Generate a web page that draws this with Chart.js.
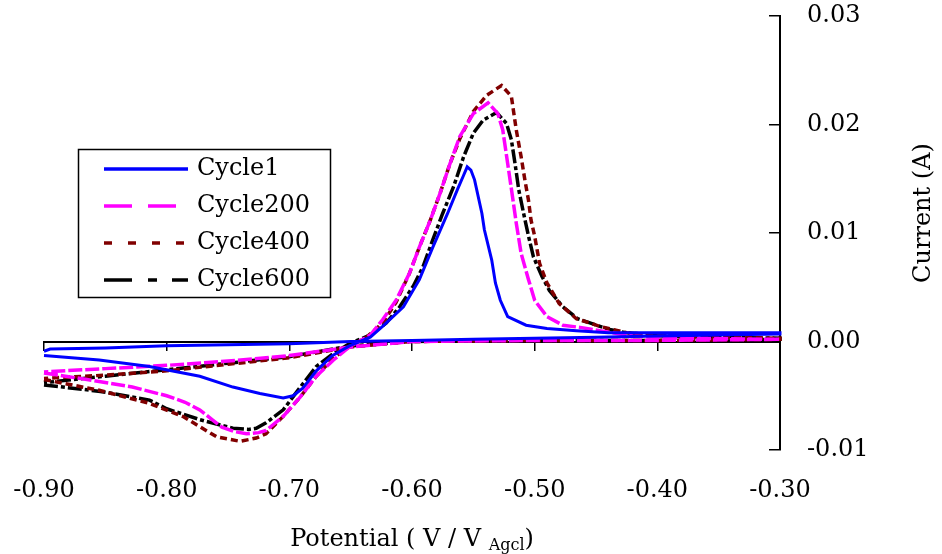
<!DOCTYPE html>
<html>
<head>
<meta charset="utf-8">
<script src="https://cdn.jsdelivr.net/npm/chart.js@4.4.1/dist/chart.umd.min.js"></script>
<style>
html,body{margin:0;padding:0;background:#ffffff;}
canvas{display:block;}
</style>
</head>
<body>
<canvas id="cv" width="942" height="554"></canvas>
<script>
// ---------- data ----------
const seriesLabels = ['Cycle1', 'Cycle200', 'Cycle400', 'Cycle600'];

const potentialCycle1 = [
  -0.900,-0.855,-0.814,-0.773,-0.746,-0.724,-0.705,-0.697,-0.689,-0.678,-0.665,-0.651,-0.634,-0.624,-0.607,
  -0.594,-0.583,-0.571,-0.563,-0.558,-0.555,-0.552,-0.549,-0.543,-0.541,-0.535,-0.532,-0.528,-0.522,-0.507,
  -0.490,-0.466,-0.440,-0.400,-0.350,-0.300,
  -0.300,-0.350,-0.400,-0.450,-0.500,-0.550,-0.600,-0.650,-0.700,-0.750,-0.800,-0.850,-0.895,-0.900];
const currentCycle1 = [
  -0.0013,-0.0017,-0.0023,-0.0032,-0.0042,-0.0048,-0.0052,-0.0050,-0.0043,-0.0027,-0.0013,-0.0004,0.0004,0.0014,0.0032,
  0.0057,0.0087,0.0118,0.0140,0.0153,0.0161,0.0158,0.0149,0.0118,0.0103,0.0075,0.0054,0.0038,0.0023,0.0015,
  0.0012,0.0010,0.0008,0.0008,0.0008,0.0008,
  0.0007,0.0006,0.0005,0.0004,0.0003,0.0002,0.0001,0.0000,-0.0002,-0.0003,-0.0004,-0.0006,-0.0007,-0.0009];

const potentialCycle200 = [
  -0.900,-0.865,-0.828,-0.800,-0.785,-0.773,-0.763,-0.755,-0.745,-0.735,-0.725,-0.719,-0.705,-0.691,-0.678,
  -0.664,-0.651,-0.634,-0.624,-0.613,-0.602,-0.594,-0.585,-0.577,-0.569,-0.561,-0.550,-0.538,-0.530,-0.526,
  -0.522,-0.518,-0.515,-0.511,-0.505,-0.500,-0.490,-0.477,-0.463,-0.447,-0.420,-0.380,-0.300,
  -0.300,-0.400,-0.500,-0.600,-0.650,-0.700,-0.750,-0.800,-0.850,-0.900];
const currentCycle200 = [
  -0.0029,-0.0035,-0.0042,-0.0050,-0.0056,-0.0063,-0.0072,-0.0079,-0.0083,-0.0085,-0.0084,-0.0082,-0.0069,-0.0051,-0.0032,
  -0.0017,-0.0005,0.0006,0.0020,0.0038,0.0063,0.0087,0.0112,0.0137,0.0164,0.0189,0.0210,0.0220,0.0210,0.0195,
  0.0164,0.0133,0.0109,0.0081,0.0057,0.0038,0.0023,0.0015,0.0013,0.0010,0.0005,0.0003,0.0002,
  0.0002,0.0001,0.0001,0.0000,-0.0005,-0.0013,-0.0018,-0.0022,-0.0025,-0.0028];

const potentialCycle400 = [
  -0.900,-0.855,-0.814,-0.787,-0.759,-0.740,-0.727,-0.719,-0.705,-0.691,-0.678,-0.664,-0.651,-0.637,-0.624,
  -0.613,-0.602,-0.594,-0.585,-0.577,-0.569,-0.561,-0.550,-0.539,-0.527,-0.519,-0.515,-0.511,-0.508,-0.505,
  -0.503,-0.500,-0.496,-0.490,-0.480,-0.466,-0.447,-0.425,-0.392,-0.350,-0.300,
  -0.300,-0.400,-0.500,-0.600,-0.650,-0.700,-0.750,-0.800,-0.850,-0.900];
const currentCycle400 = [
  -0.0035,-0.0045,-0.0057,-0.0069,-0.0088,-0.0092,-0.0089,-0.0085,-0.0069,-0.0051,-0.0032,-0.0015,-0.0005,0.0004,0.0017,
  0.0036,0.0063,0.0087,0.0112,0.0137,0.0164,0.0187,0.0212,0.0227,0.0236,0.0226,0.0195,0.0170,0.0149,0.0130,
  0.0112,0.0097,0.0072,0.0054,0.0035,0.0021,0.0014,0.0008,0.0005,0.0004,0.0003,
  0.0002,0.0001,0.0001,0.0000,-0.0005,-0.0015,-0.0021,-0.0027,-0.0031,-0.0034];

const potentialCycle600 = [
  -0.900,-0.854,-0.814,-0.800,-0.773,-0.746,-0.733,-0.727,-0.719,-0.705,-0.691,-0.678,-0.664,-0.651,-0.634,
  -0.621,-0.610,-0.599,-0.591,-0.583,-0.575,-0.566,-0.558,-0.550,-0.542,-0.531,-0.523,-0.519,-0.516,-0.513,
  -0.509,-0.505,-0.501,-0.494,-0.488,-0.477,-0.465,-0.452,-0.439,-0.425,-0.392,-0.350,-0.300,
  -0.300,-0.400,-0.500,-0.600,-0.650,-0.700,-0.750,-0.800,-0.850,-0.900];
const currentCycle600 = [
  -0.0040,-0.0046,-0.0054,-0.0062,-0.0072,-0.0080,-0.0081,-0.0080,-0.0075,-0.0063,-0.0042,-0.0023,-0.0011,-0.0002,0.0006,
  0.0017,0.0032,0.0051,0.0069,0.0094,0.0118,0.0143,0.0170,0.0192,0.0204,0.0211,0.0201,0.0186,0.0164,0.0140,
  0.0118,0.0097,0.0078,0.0060,0.0047,0.0032,0.0021,0.0016,0.0011,0.0008,0.0005,0.0004,0.0003,
  0.0002,0.0001,0.0001,0.0000,-0.0004,-0.0014,-0.0020,-0.0026,-0.0032,-0.0038];

const xMin = -0.90, xMax = -0.30, xStep = 0.10;
const yMin = -0.01, yMax = 0.03, yStep = 0.01;
const xTitleMain = 'Potential ( V / V ';
const xTitleSub = 'Agcl';
const xTitleEnd = ')';
const yTitle = 'Current (A)';

// ---------- styles ----------
const FONT = "'DejaVu Serif', 'Liberation Serif', serif";
const colors = ['#0000ff', '#ff00ff', '#800000', '#000000'];
const lineDashes = [[], [14, 3], [7, 4], [14, 3, 4, 3]];
const legendDashes = [[], [28, 16], [8, 16], [28, 16, 9, 15]];
const widths = [3, 3.5, 3.5, 3.5];

function pairs(xs, ys) { return xs.map((x, i) => ({ x: x, y: ys[i] })); }
const seriesX = [potentialCycle1, potentialCycle200, potentialCycle400, potentialCycle600];
const seriesY = [currentCycle1, currentCycle200, currentCycle400, currentCycle600];

const datasets = seriesLabels.map((lab, i) => ({
  label: lab,
  data: pairs(seriesX[i], seriesY[i]),
  showLine: true,
  borderColor: colors[i],
  backgroundColor: colors[i],
  borderWidth: widths[i],
  borderDash: lineDashes[i],
  pointRadius: 0,
  pointHoverRadius: 0,
  tension: 0,
  fill: false,
  clip: false
}));

const fmt = v => (Math.abs(v) < 1e-9 ? 0 : v).toFixed(2);

const decor = {
  id: 'decor',
  afterDraw(chart) {
    const ctx = chart.ctx;
    const ca = chart.chartArea;
    ctx.save();
    // legend frame
    ctx.setLineDash([]);
    ctx.lineWidth = 1.5;
    ctx.strokeStyle = '#000';
    ctx.strokeRect(78.5, 149.5, 252, 148);
    ctx.font = '24px ' + FONT;
    ctx.textBaseline = 'middle';
    ctx.textAlign = 'left';
    chart.data.datasets.forEach((ds, i) => {
      const y = 169 + i * 37;
      ctx.beginPath();
      ctx.setLineDash(legendDashes[i]);
      ctx.lineCap = 'butt';
      ctx.lineWidth = 3.5;
      ctx.strokeStyle = ds.borderColor;
      ctx.moveTo(104, y);
      ctx.lineTo(188, y);
      ctx.stroke();
      ctx.setLineDash([]);
      ctx.fillStyle = '#000';
      ctx.fillText(ds.label, 197, y);
    });
    // x axis title with subscript
    const big = '24px ' + FONT, small = '16px ' + FONT;
    ctx.font = big; const w1 = ctx.measureText(xTitleMain).width; const w3 = ctx.measureText(xTitleEnd).width;
    ctx.font = small; const w2 = ctx.measureText(xTitleSub).width;
    const total = w1 + w2 + w3;
    let x0 = (ca.left + ca.right) / 2 - total / 2;
    const base = 546;
    ctx.textBaseline = 'alphabetic';
    ctx.textAlign = 'left';
    ctx.fillStyle = '#000';
    ctx.font = big; ctx.fillText(xTitleMain, x0, base);
    ctx.font = small; ctx.fillText(xTitleSub, x0 + w1, base + 4);
    ctx.font = big; ctx.fillText(xTitleEnd, x0 + w1 + w2, base);
    // y axis title (reads bottom to top)
    ctx.translate(924, 213);
    ctx.rotate(-Math.PI / 2);
    ctx.textAlign = 'center';
    ctx.textBaseline = 'middle';
    ctx.font = big;
    ctx.fillText(yTitle, 0, 0);
    ctx.restore();
  }
};

new Chart(document.getElementById('cv'), {
  type: 'scatter',
  data: { datasets: datasets },
  options: {
    responsive: false,
    animation: false,
    devicePixelRatio: 1,
    layout: { padding: { left: 44, top: 16, right: 0, bottom: 0 } },
    plugins: { legend: { display: false }, tooltip: { enabled: false } },
    scales: {
      x: {
        type: 'linear', position: 'bottom', min: xMin, max: xMax,
        border: { display: false },
        grid: { display: true, drawOnChartArea: false, drawTicks: true, tickLength: 23, color: 'rgba(0,0,0,0)' },
        ticks: { stepSize: xStep, padding: 3, color: '#000', font: { family: FONT, size: 24 }, callback: v => fmt(v), maxRotation: 0, autoSkip: false },
        afterFit: s => { s.height = 104; }
      },
      y: {
        type: 'linear', position: 'right', min: yMin, max: yMax,
        border: { display: false },
        grid: { display: true, drawOnChartArea: false, drawTicks: true, tickLength: 27, color: 'rgba(0,0,0,0)' },
        ticks: { stepSize: yStep, padding: 0, crossAlign: 'near', color: '#000', font: { family: FONT, size: 24 }, callback: v => fmt(v) },
        afterFit: s => { s.width = 162; }
      },
      x2: {
        type: 'linear', position: { y: 0 }, min: xMin, max: xMax,
        border: { display: true, color: '#000', width: 2 },
        grid: { display: true, drawOnChartArea: false, drawTicks: true, tickLength: 8, color: '#000', lineWidth: 1.5 },
        ticks: { display: false, stepSize: xStep }
      },
      y2: {
        type: 'linear', position: { x: xMax }, min: yMin, max: yMax,
        border: { display: true, color: '#000', width: 2 },
        grid: { display: true, drawOnChartArea: false, drawTicks: true, tickLength: 10, color: '#000', lineWidth: 1.5 },
        ticks: { display: false, stepSize: yStep }
      }
    }
  },
  plugins: [decor]
});
</script>
</body>
</html>
